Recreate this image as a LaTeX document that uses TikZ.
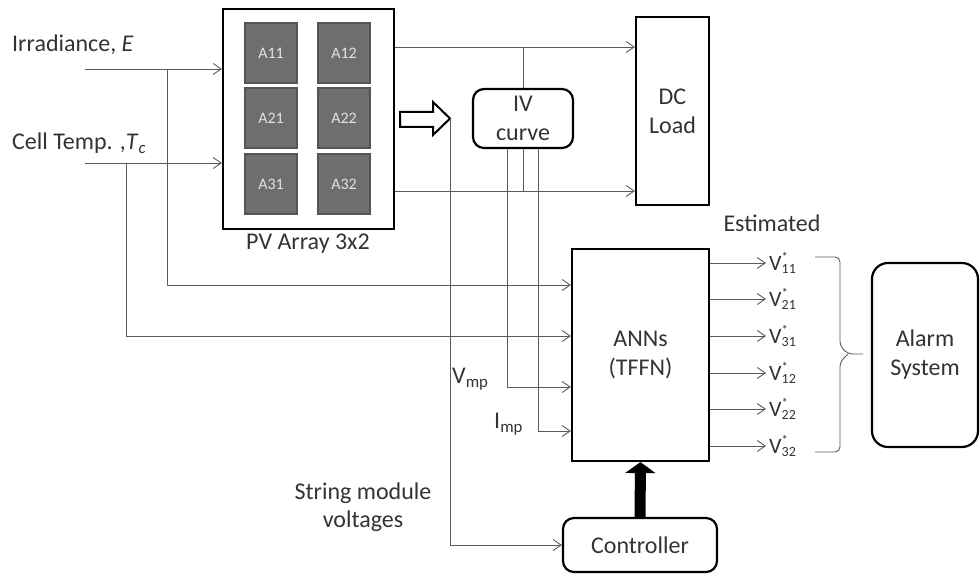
\documentclass[tikz,border=0pt]{standalone}
\usepackage{fontspec}
\setmainfont{Carlito}
\definecolor{inkgray}{HTML}{333333}
\definecolor{wiregray}{HTML}{5A5A5A}
\definecolor{cellfill}{HTML}{6E6E6E}
\definecolor{celledge}{HTML}{555555}
\definecolor{celltext}{HTML}{E2E2E2}
\usetikzlibrary{arrows.meta,positioning,calc}
\newcommand{\vest}[1]{V\rlap{\raisebox{0.4em}{\fontsize{13}{13}\selectfont *}}\raisebox{-0.15em}{\fontsize{14}{14}\selectfont #1}}

\begin{document}
\begin{tikzpicture}[x=1pt, y=-1pt,
  box/.style={rectangle, draw=black, line width=2.2pt, fill=white, align=center, text=inkgray, font=\fontsize{24}{29}\selectfont},
  rbox/.style={box, rounded corners=11pt},
  cell/.style={rectangle, draw=celledge, line width=1.5pt, fill=cellfill, minimum width=52pt, minimum height=60pt, text=celltext, font=\fontsize{16}{18}\selectfont},
  lbl/.style={inner sep=0pt, text=inkgray, align=center, font=\fontsize{24}{28}\selectfont},
  vlbl/.style={inner sep=0pt, text=inkgray, anchor=west, font=\fontsize{22}{22}\selectfont},
  wire/.style={draw=wiregray, line width=0.9pt},
  arr/.style={wire, -{Straight Barb[length=8pt,width=11pt]}},
  fat/.style={line width=11pt, -{Triangle[length=11pt,width=30pt]}}]
\useasboundingbox (0,0) rectangle (980,575);

\node[lbl, anchor=west] (irr) at (12,45) {Irradiance, \textit{E}};
\node[lbl, anchor=west] (tc) at (12,143) {Cell Temp. ,\textit{T}\textsubscript{\textit{c}}};
\coordinate (irrin) at (85,69);
\coordinate (tcin) at (85,163);
\coordinate (jE) at (167,69);
\coordinate (jT) at (126,163);

\node[box, minimum width=171pt, minimum height=220pt] (pv) at (308.5,119) {};
\node[cell] (c11) at (271,53) {A11};
\node[cell] (c12) at (344,53) {A12};
\node[cell] (c21) at (271,118) {A21};
\node[cell] (c22) at (344,118) {A22};
\node[cell] (c31) at (271,184) {A31};
\node[cell] (c32) at (344,184) {A32};
\node[lbl] (pvname) at (308,244) {PV Array 3x2};

\node[box, minimum width=73pt, minimum height=188pt] (dc) at (672.5,111) {DC\\Load};
\node[rbox, minimum width=100pt, minimum height=59pt, inner sep=2pt] (iv) at (523,118.5) {IV\\curve};
\node[box, minimum width=137pt, minimum height=212pt] (ann) at (640.5,355) {ANNs\\(TFFN)};
\node[rbox, minimum width=154pt, minimum height=54pt] (ctrl) at (640,545) {Controller};
\node[rbox, rounded corners=16pt, minimum width=106pt, minimum height=184pt] (alarm) at (925,355) {Alarm\\System};

\draw[line width=2pt, fill=white] (400,112) -- (433,112) -- (433,102) -- (450,118.5) -- (433,135) -- (433,127) -- (400,127) -- cycle;
\coordinate (hollowtip) at (450,118.5);

\draw[arr] (irrin) -- (irrin -| pv.west);
\draw[arr] (tcin) -- (tcin -| pv.west);
\draw[arr] (jE) |- (ann.west |- 0,285);
\draw[arr] (jT) |- (ann.west |- 0,336);

\draw[arr] (pv.east |- 0,47) -- (dc.west |- 0,47);
\draw[arr] (pv.east |- 0,191) -- (dc.west |- 0,191);
\draw[wire] (iv.north |- 0,47) -- (iv.north);
\draw[wire] (iv.south) -- (iv.south |- 0,191);
\draw[arr] (iv.south -| 507,0) |- (ann.west |- 0,387);
\draw[arr] (iv.south -| 538,0) |- (ann.west |- 0,431);
\draw[arr] (hollowtip) |- (ctrl.west);
\draw[fat] (ctrl.north) -- (ann.south);

\node[lbl, anchor=west] (vmp) at (452,379) {V\textsubscript{mp}};
\node[lbl, anchor=west] (imp) at (494,424) {I\textsubscript{mp}};
\node[lbl] (smv) at (363,507) {String module\\voltages};
\node[lbl] (est) at (772,223) {Estimated};

\node[vlbl] (v11) at (769,263) {\vest{11}};
\node[vlbl] (v21) at (769,299) {\vest{21}};
\node[vlbl] (v31) at (769,336) {\vest{31}};
\node[vlbl] (v12) at (769,373) {\vest{12}};
\node[vlbl] (v22) at (769,409) {\vest{22}};
\node[vlbl] (v32) at (769,446) {\vest{32}};
\draw[arr] (ann.east |- v11.west) -- ([xshift=-3pt]v11.west);
\draw[arr] (ann.east |- v21.west) -- ([xshift=-3pt]v21.west);
\draw[arr] (ann.east |- v31.west) -- ([xshift=-3pt]v31.west);
\draw[arr] (ann.east |- v12.west) -- ([xshift=-3pt]v12.west);
\draw[arr] (ann.east |- v22.west) -- ([xshift=-3pt]v22.west);
\draw[arr] (ann.east |- v32.west) -- ([xshift=-3pt]v32.west);

\coordinate (bracetip) at (863,354);
\draw[wire, rounded corners=5pt] (815,257) -| (840,346) -- (848,354) -- (bracetip);
\draw[wire, rounded corners=5pt] (815,452) -| (840,362) -- (848,354);
\end{tikzpicture}
\end{document}
